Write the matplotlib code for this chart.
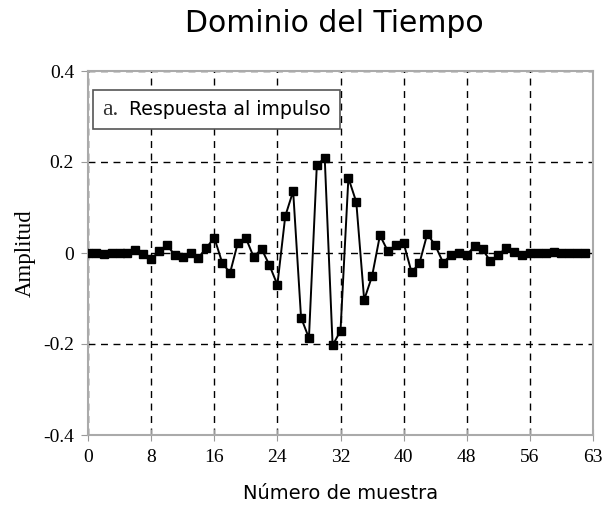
import matplotlib
matplotlib.use("Agg")
import matplotlib.pyplot as plt
from matplotlib.offsetbox import AnchoredOffsetbox, TextArea, HPacker

samples = list(range(64))
amplitude = [
    0.0, 0.0, -0.003, 0.0, 0.0, 0.0, 0.006, -0.003,
    -0.014, 0.004, 0.017, -0.004, -0.009, 0.001, -0.010, 0.011,
    0.034, -0.021, -0.044, 0.023, 0.033, -0.009, 0.009, -0.027,
    -0.070, 0.081, 0.136, -0.142, -0.187, 0.193, 0.209, -0.203,
    -0.171, 0.165, 0.112, -0.103, -0.051, 0.039, 0.004, 0.017,
    0.022, -0.042, -0.023, 0.042, 0.017, -0.021, -0.005, 0.0,
    -0.004, 0.015, 0.008, -0.018, -0.005, 0.012, 0.002, -0.004,
    0.0, -0.001, 0.0, 0.003, 0.0, 0.0, 0.0, 0.0,
]
x_ticks = [0, 8, 16, 24, 32, 40, 48, 56, 64]
x_tick_labels = ["0", "8", "16", "24", "32", "40", "48", "56", "63"]
y_ticks = [-0.4, -0.2, 0.0, 0.2, 0.4]
y_tick_labels = ["-0.4", "-0.2", "0", "0.2", "0.4"]

fig = plt.figure(figsize=(6.02, 5.12), dpi=100)
ax = fig.add_axes([88/602, 1-435/512, (593-88)/602, (435-71)/512])

ax.plot(samples, amplitude, color="black", lw=1.4, marker="s", ms=5.5,
        markerfacecolor="black", markeredgecolor="black", zorder=3)

ax.set_xlim(0, 64)
ax.set_ylim(-0.4, 0.4)
ax.set_xticks(x_ticks)
ax.set_xticklabels(x_tick_labels, family="Liberation Serif", fontsize=14)
ax.set_yticks(y_ticks)
ax.set_yticklabels(y_tick_labels, family="Liberation Serif", fontsize=14)
ax.grid(True, color="black", linestyle=(0, (5, 4)), lw=1.0)
ax.set_axisbelow(True)
for s in ax.spines.values():
    s.set_color("#aaaaaa")
    s.set_linewidth(1.5)
ax.tick_params(axis="y", direction="out", length=5, color="#999999", pad=5)
ax.tick_params(axis="x", direction="inout", length=8, color="#999999", pad=6)

ax.set_ylabel("Amplitud", family="Liberation Serif", fontsize=16.5, labelpad=5)
ax.set_xlabel("Número de muestra", family="DejaVu Sans", fontsize=14, labelpad=13)
fig.text(0.555, 1-32/512, "Dominio del Tiempo", ha="center", va="baseline",
         family="DejaVu Sans", fontsize=21.5)

ta = TextArea("a.", textprops=dict(family="Liberation Serif", fontsize=17, color="#333333"))
tb = TextArea("Respuesta al impulso", textprops=dict(family="DejaVu Sans", fontsize=13.6, color="black"))
box = HPacker(children=[ta, tb], align="baseline", pad=0, sep=8)
anch = AnchoredOffsetbox(loc="upper left", child=box, pad=0.65, borderpad=0.0,
                         frameon=True, bbox_to_anchor=(93/602, 1-90/512),
                         bbox_transform=fig.transFigure)
anch.patch.set_edgecolor("#555555")
anch.patch.set_linewidth(1.2)
anch.patch.set_facecolor("white")
anch.set_zorder(5)
ax.add_artist(anch)

fig.savefig("out.png", dpi=100)
